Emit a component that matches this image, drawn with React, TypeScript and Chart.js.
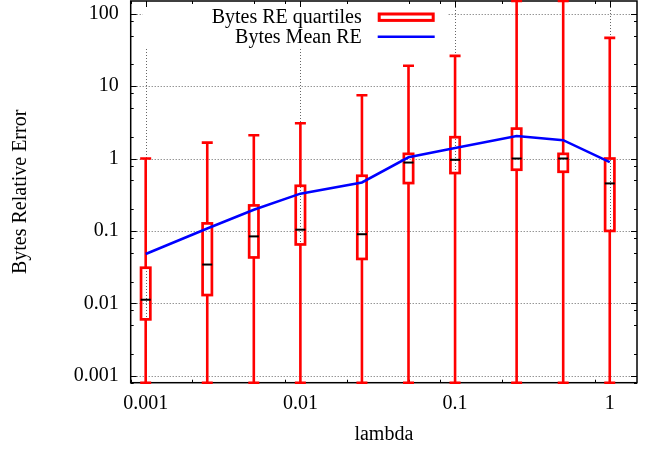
import React, { useEffect, useRef } from "react";
import { Chart, registerables } from "chart.js";

Chart.register(...registerables);

// ---- data ----
const lambdas = [0.001, 0.0025, 0.005, 0.01, 0.025, 0.05, 0.1, 0.25, 0.5, 1];
const whiskerLow = [0, 0, 0, 0, 0, 0, 0, 0, 0, 0];
const quartile1 = [0.006, 0.013, 0.043, 0.065, 0.041, 0.458, 0.63, 0.7, 0.656, 0.1];
const medians = [0.0112, 0.0343, 0.084, 0.104, 0.09, 0.88, 0.96, 1.0, 1.0, 0.453];
const quartile3 = [0.031, 0.127, 0.225, 0.42, 0.578, 1.16, 1.97, 2.59, 1.16, 1.0];
const whiskerHigh = [1.0, 1.66, 2.1, 3.07, 7.47, 19.1, 26.2, 300, 300, 46.4];
const meanRE = [0.048, 0.108, 0.196, 0.327, 0.467, 1.04, 1.4, 2.05, 1.79, 0.89];

const xTickValues = [0.001, 0.01, 0.1, 1];
const xTickLabels = ["0.001", "0.01", "0.1", "1"];
const yTickValues = [0.001, 0.01, 0.1, 1, 10, 100];
const yTickLabels = ["0.001", "0.01", "0.1", "1", "10", "100"];
const minorFactors = [2, 5, 8];
const xRange = [0.0008, 1.5];
const yRange = [0.0008, 150];
const seriesLabels = ["Bytes RE quartiles", "Bytes Mean RE"];
const xTitle = "lambda";
const yTitle = "Bytes Relative Error";

const FONT = '"Liberation Serif", "Times New Roman", serif';
const BOX_COLOR = "#ff0000";
const BOX_LINE = 2.7;

function minorValues(range: number[], major: number[]) {
  const out: number[] = [];
  const k0 = Math.floor(Math.log10(range[0]));
  const k1 = Math.ceil(Math.log10(range[1]));
  for (let k = k0; k <= k1; k++) {
    for (const f of minorFactors) {
      const v = f * Math.pow(10, k);
      if (v >= range[0] && v <= range[1] && !major.includes(v)) out.push(v);
    }
  }
  return out;
}

const gnuplotPlugin = {
  id: "gnuplotLook",
  beforeDatasetsDraw(chart: any) {
    const { ctx, chartArea: a, scales } = chart;
    const xs = scales.x;
    const ys = scales.y;
    ctx.save();
    // dotted major grid
    ctx.strokeStyle = "rgba(0,0,0,0.6)";
    ctx.lineWidth = 1;
    ctx.setLineDash([1, 2]);
    for (const v of xTickValues) {
      const px = Math.round(xs.getPixelForValue(v)) + 0.5;
      ctx.beginPath();
      ctx.moveTo(px, a.top);
      ctx.lineTo(px, a.bottom);
      ctx.stroke();
    }
    for (const v of yTickValues) {
      const py = Math.round(ys.getPixelForValue(v)) + 0.5;
      ctx.beginPath();
      ctx.moveTo(a.left, py);
      ctx.lineTo(a.right, py);
      ctx.stroke();
    }
    ctx.setLineDash([]);
    // opaque key box
    ctx.fillStyle = "#ffffff";
    ctx.fillRect(a.left + 12, a.top, 305, 48 - a.top);
    // border
    ctx.strokeStyle = "#000";
    ctx.lineWidth = 1.5;
    ctx.strokeRect(a.left, a.top, a.right - a.left, a.bottom - a.top);
    // inward ticks on all four sides
    ctx.lineWidth = 1;
    const xMinor = minorValues(xRange, xTickValues);
    const yMinor = minorValues(yRange, yTickValues);
    const tickX = (v: number, len: number) => {
      const px = Math.round(xs.getPixelForValue(v)) + 0.5;
      ctx.beginPath();
      ctx.moveTo(px, a.bottom);
      ctx.lineTo(px, a.bottom - len);
      ctx.moveTo(px, a.top);
      ctx.lineTo(px, a.top + len);
      ctx.stroke();
    };
    const tickY = (v: number, len: number) => {
      const py = Math.round(ys.getPixelForValue(v)) + 0.5;
      ctx.beginPath();
      ctx.moveTo(a.left, py);
      ctx.lineTo(a.left + len, py);
      ctx.moveTo(a.right, py);
      ctx.lineTo(a.right - len, py);
      ctx.stroke();
    };
    xTickValues.forEach((v) => tickX(v, 6));
    xMinor.forEach((v) => tickX(v, 3));
    yTickValues.forEach((v) => tickY(v, 6));
    yMinor.forEach((v) => tickY(v, 3));
    // whiskers
    const clampY = (p: number) => Math.min(Math.max(p, a.top), a.bottom);
    ctx.strokeStyle = BOX_COLOR;
    ctx.lineWidth = 2.6;
    lambdas.forEach((lx, i) => {
      const px = xs.getPixelForValue(lx);
      const yHi = clampY(ys.getPixelForValue(whiskerHigh[i]));
      const yQ3 = ys.getPixelForValue(quartile3[i]);
      const yQ1 = ys.getPixelForValue(quartile1[i]);
      const yLo = clampY(ys.getPixelForValue(whiskerLow[i]));
      ctx.beginPath();
      ctx.moveTo(px, yHi);
      ctx.lineTo(px, yQ3);
      ctx.moveTo(px, yQ1);
      ctx.lineTo(px, yLo);
      ctx.moveTo(px - 5.5, yHi);
      ctx.lineTo(px + 5.5, yHi);
      ctx.moveTo(px - 5.5, yLo);
      ctx.lineTo(px + 5.5, yLo);
      ctx.stroke();
    });
    ctx.restore();
  },
  afterDatasetDraw(chart: any, args: any) {
    const meta = args.meta;
    if (meta.type !== "bar") return;
    const { ctx } = chart;
    ctx.save();
    ctx.strokeStyle = BOX_COLOR;
    ctx.lineWidth = BOX_LINE;
    meta.data.forEach((el: any) => {
      const { x, y, base, width } = el.getProps(["x", "y", "base", "width"], true);
      const top = Math.min(y, base);
      const h = Math.abs(base - y);
      ctx.strokeRect(x - width / 2, top, width, h);
    });
    ctx.restore();
  },
  afterDatasetsDraw(chart: any) {
    const { ctx, chartArea: a, scales } = chart;
    const xs = scales.x;
    const ys = scales.y;
    ctx.save();
    // medians
    ctx.strokeStyle = "#000";
    ctx.lineWidth = 2;
    lambdas.forEach((lx, i) => {
      const px = xs.getPixelForValue(lx);
      const py = ys.getPixelForValue(medians[i]);
      ctx.beginPath();
      ctx.moveTo(px - 5, py);
      ctx.lineTo(px + 5, py);
      ctx.stroke();
    });
    // key
    const ds = chart.data.datasets;
    const textRight = a.left + 231;
    const sampleL = a.left + 247;
    const sampleR = a.left + 304;
    ctx.font = `20px ${FONT}`;
    ctx.fillStyle = "#000";
    ctx.textAlign = "right";
    ctx.textBaseline = "alphabetic";
    ctx.fillText(ds[1].label, textRight, 23);
    ctx.fillText(ds[0].label, textRight, 43.3);
    ctx.strokeStyle = BOX_COLOR;
    ctx.lineWidth = 3;
    ctx.strokeRect(sampleL + 1.5, 14, sampleR - sampleL - 3, 6.4);
    ctx.strokeStyle = ds[0].borderColor;
    ctx.lineWidth = 2.5;
    ctx.beginPath();
    ctx.moveTo(sampleL, 36.7);
    ctx.lineTo(sampleR, 36.7);
    ctx.stroke();
    ctx.restore();
  },
};

export default function App() {
  const ref = useRef<HTMLCanvasElement>(null);
  useEffect(() => {
    document.body.style.margin = "0";
    const canvas = ref.current!;
    const chart = new Chart(canvas, {
      type: "bar",
      data: {
        datasets: [
          {
            type: "line",
            label: seriesLabels[1],
            data: lambdas.map((x, i) => ({ x, y: meanRE[i] })),
            borderColor: "#0000ff",
            borderWidth: 2.5,
            pointRadius: 0,
            fill: false,
            tension: 0,
            order: 0,
          } as any,
          {
            type: "bar",
            label: seriesLabels[0],
            data: lambdas.map((x, i) => ({ x, y: [quartile1[i], quartile3[i]] })),
            borderColor: BOX_COLOR,
            backgroundColor: "rgba(0,0,0,0)",
            borderWidth: 0,
            borderSkipped: false,
            barThickness: 9.3,
            order: 1,
          } as any,
        ],
      },
      options: {
        responsive: false,
        animation: false,
        devicePixelRatio: 1,
        layout: { padding: { left: 0, right: 12, top: 1, bottom: 0 } },
        plugins: { legend: { display: false }, tooltip: { enabled: false } },
        scales: {
          x: {
            type: "logarithmic",
            min: xRange[0],
            max: xRange[1],
            bounds: "data",
            offset: false,
            grid: { display: false, drawTicks: false },
            border: { display: false },
            afterBuildTicks: (s: any) => {
              s.ticks = xTickValues.map((v) => ({ value: v }));
            },
            afterFit: (s: any) => {
              s.height = 68.3;
              s.paddingLeft = 0;
              s.paddingRight = 0;
            },
            ticks: {
              autoSkip: false,
              maxRotation: 0,
              minRotation: 0,
              padding: 9,
              color: "#000",
              font: { family: FONT, size: 20 },
              callback: (_v: any, i: number) => xTickLabels[i],
            },
            title: {
              display: true,
              text: xTitle,
              color: "#000",
              font: { family: FONT, size: 20 },
              padding: { top: 0, bottom: 4 },
            },
          } as any,
          y: {
            type: "logarithmic",
            min: yRange[0],
            max: yRange[1],
            bounds: "data",
            grid: { display: false, drawTicks: false },
            border: { display: false },
            afterBuildTicks: (s: any) => {
              s.ticks = yTickValues.map((v) => ({ value: v }));
            },
            afterFit: (s: any) => {
              s.width = 130.7;
              s.paddingTop = 0;
              s.paddingBottom = 0;
            },
            ticks: {
              autoSkip: false,
              padding: 12,
              color: "#000",
              font: { family: FONT, size: 20 },
              callback: (_v: any, i: number) => yTickLabels[i],
            },
            title: {
              display: true,
              text: yTitle,
              color: "#000",
              font: { family: FONT, size: 20 },
              padding: { top: 9, bottom: 0 },
            },
          } as any,
        },
      },
      plugins: [gnuplotPlugin],
    } as any);
    return () => chart.destroy();
  }, []);
  return (
    <div style={{ position: "absolute", left: 0, top: 0, width: 649, height: 451, background: "#fff" }}>
      <canvas ref={ref} width={649} height={451} style={{ display: "block", width: 649, height: 451 }} />
    </div>
  );
}
